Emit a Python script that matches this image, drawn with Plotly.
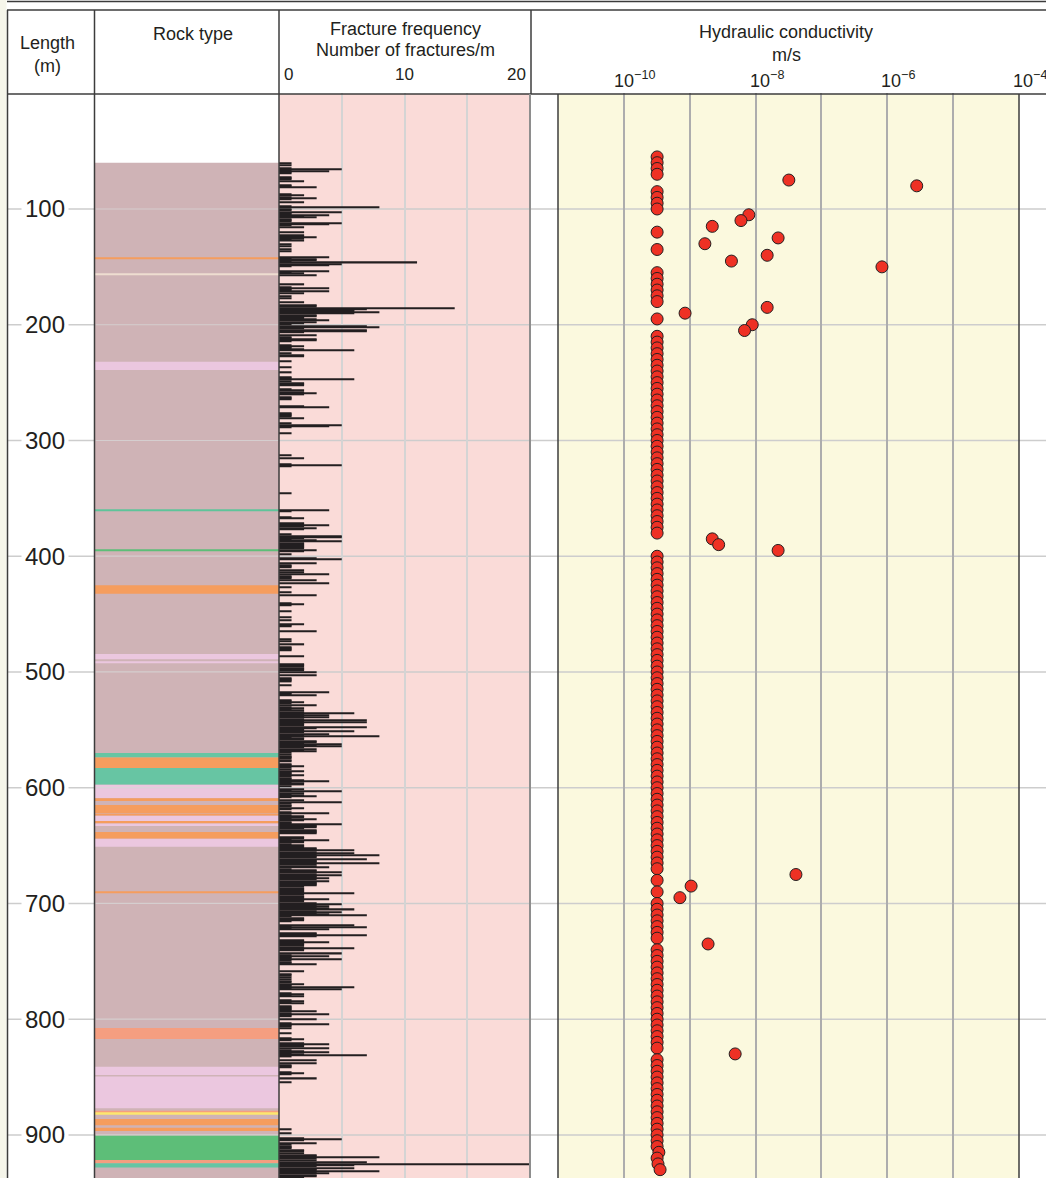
import plotly.graph_objects as go

# ---------------- DATA ----------------
depth_ticks = [100, 200, 300, 400, 500, 600, 700, 800, 900]

# Rock type intervals (top m, bottom m, colour)
rock_top = [60, 142.3, 156, 232, 359.5, 394, 425, 484.5, 491, 570, 574, 583, 597.5, 609, 615, 622.5, 624.3,
            628.7, 631, 638.2, 644.2, 690, 807.6, 841, 849.6, 879.2, 881.2, 886.2, 893.7, 900.5, 921.6, 924.4]
rock_bottom = [945, 143.3, 157, 239, 361, 395.5, 432.5, 489, 492.5, 574, 583, 597.5, 609, 611.5, 622, 624.3, 628.7,
               631, 633, 644.2, 651, 691, 817, 848.2, 877, 881.2, 882.6, 891.6, 896.6, 921.6, 924.4, 928.2]
rock_color = ['#CFB3B6', '#F59D5E', '#EEDDD0', '#EBC7DF', '#5EC49A', '#5DBE78', '#F59D5E', '#EBC7DF', '#EBC7DF',
              '#67C5A3', '#F59D5E', '#67C5A3', '#EBC7DF', '#F59D5E', '#F59D5E', '#F59D5E', '#EBC7DF',
              '#F59D5E', '#EBC7DF', '#F59D5E', '#EBC7DF', '#F59D5E', '#F59E80', '#EBC7DF', '#EBC7DF', '#F59E80',
              '#FDE66E', '#F59D5E', '#F59D5E', '#5DBE78', '#F59E80', '#67C5A3']

# Fracture frequency (depth m, fractures per m)
frac_060_199 = [(60,1),(62,1),(64,1),(65,5),(66,1),(67,4),(68,1),(69,1),(72,1),(73,1),(74,1),(76,2),(79,1),(80,1),
    (81,3),(87,1),(88,2),(89,1),(90,3),(91,1),(94,2),(97,1),(98,8),(100,1),(101,1),(102,5),(103,1),(104,1),(105,4),
    (106,2),(107,3),(108,1),(109,1),(110,1),(112,5),(113,4),(114,1),(115,2),(120,2),(122,2),(123,2),(124,3),(125,2),
    (126,1),(127,2),(130,1),(132,1),(134,1),(136,1),(141,4),(142,1),(143,3),(144,3),(145,1),(146,11),(147,5),(148,4),
    (149,1),(153,4),(154,1),(155,2),(157,3),(165,2),(167,1),(168,4),(169,1),(170,1),(171,4),(172,2),(175,1),(177,1),
    (180,2),(183,3),(184,3),(185,14),(186,7),(187,6),(188,6),(189,8),(190,6),(191,3),(192,3),(193,2),(194,2),(195,3),
    (196,4),(197,3),(198,2),(199,1)]
frac_200_399 = [(201,7),(202,8),(203,2),(204,7),(205,7),(206,2),(209,3),(210,1),(211,1),(212,3),(213,3),(214,1),
    (217,1),(218,2),(219,1),(220,1),(221,2),(222,6),(224,1),(226,2),(227,2),(231,1),(236,1),(241,1),(245,1),(246,1),
    (247,6),(248,1),(250,2),(251,2),(252,2),(255,1),(256,2),(258,2),(259,3),(260,2),(262,1),(263,1),(264,1),(270,2),
    (271,4),(276,1),(277,1),(278,1),(279,1),(280,2),(285,1),(286,5),(287,4),(288,1),(293,1),(312,1),(315,2),(320,1),
    (321,5),(322,1),(345,1),(360,4),(361,1),(366,1),(367,2),(371,2),(372,2),(373,4),(374,2),(375,3),(376,2),(381,1),
    (382,5),(383,5),(384,2),(385,1),(386,3),(387,5),(388,2),(389,2),(390,2),(391,2),(392,2),(393,2),(394,3),(395,2),
    (398,1)]
frac_400_599 = [(401,3),(402,5),(406,3),(407,1),(408,1),(409,1),(412,2),(413,2),(415,4),(417,1),(418,1),(419,1),
    (420,3),(423,4),(426,1),(431,1),(433,3),(440,1),(441,2),(442,1),(447,1),(452,1),(455,1),(458,2),(459,1),(460,1),
    (464,3),(471,1),(473,1),(476,2),(478,1),(479,1),(480,1),(481,1),(486,2),(493,2),(494,2),(495,2),(496,2),(497,2),
    (498,2),(500,3),(502,3),(505,1),(506,1),(507,1),(508,1),(511,1),(517,4),(518,1),(519,1),(520,3),(524,1),(525,1),
    (526,2),(527,1),(528,3),(530,1),(531,2),(532,1),(533,2),(534,2),(535,6),(536,2),(537,4),(538,2),(539,4),(540,2),
    (541,7),(542,2),(543,7),(544,2),(545,2),(546,2),(547,7),(548,3),(549,2),(550,2),(551,6),(552,2),(553,4),(554,2),
    (555,8),(556,1),(557,2),(558,2),(559,3),(560,3),(561,2),(562,5),(563,3),(564,5),(565,2),(566,3),(567,2),(568,3),
    (569,1),(571,1),(572,1),(573,1),(574,1),(576,1),(577,1),(579,1),(580,1),(581,2),(582,1),(584,1),(585,2),(586,1),
    (587,1),(588,1),(589,2),(590,1),(591,1),(592,1),(593,2),(594,4),(595,1),(596,2),(597,2),(598,1)]
frac_600_799 = [(601,2),(602,1),(603,5),(604,2),(605,1),(606,2),(607,3),(608,1),(610,2),(612,5),(613,1),(615,1),
    (616,1),(617,2),(618,1),(621,1),(622,4),(623,1),(624,2),(625,2),(626,1),(627,3),(628,2),(629,1),(630,1),(631,5),
    (632,3),(633,3),(634,3),(635,2),(636,3),(637,3),(638,3),(639,3),(642,2),(643,2),(644,1),(645,4),(646,2),(647,2),
    (648,1),(649,2),(650,2),(651,2),(652,3),(653,3),(654,6),(655,3),(656,6),(657,3),(658,8),(659,3),(660,3),(661,7),
    (662,3),(663,3),(664,3),(665,8),(666,3),(667,3),(668,4),(670,1),(671,3),(672,3),(673,5),(674,3),(675,5),(676,3),
    (677,3),(678,4),(679,3),(680,4),(681,3),(682,3),(683,3),(684,3),(685,2),(686,2),(687,2),(688,2),(689,2),(690,2),
    (691,6),(692,2),(693,2),(694,2),(695,2),(696,4),(697,2),(698,2),(699,3),(700,5),(701,3),(702,4),(703,3),(704,4),
    (705,6),(706,3),(707,5),(708,3),(709,4),(710,7),(711,1),(712,2),(713,2),(714,2),(715,1),(718,6),(719,1),(720,7),
    (721,1),(722,4),(725,3),(726,3),(727,7),(728,3),(731,2),(732,2),(733,4),(734,2),(735,2),(736,2),(737,2),(738,6),
    (739,2),(740,2),(743,5),(744,1),(745,4),(746,1),(747,1),(748,5),(749,1),(750,1),(751,1),(752,3),(758,2),(761,1),
    (762,1),(763,1),(765,1),(767,1),(768,1),(769,2),(770,1),(771,1),(772,6),(773,1),(774,5),(777,1),(778,2),(779,1),
    (780,2),(783,1),(784,2),(785,1),(786,2),(788,1),(789,1),(790,1),(791,1),(792,1),(793,3),(794,1),(795,4),(796,1),
    (797,1)]
frac_800_937 = [(800,3),(803,1),(804,4),(805,1),(806,1),(807,1),(812,1),(816,1),(817,2),(818,1),(820,2),(821,4),
    (822,2),(823,2),(825,4),(826,1),(827,2),(828,4),(829,1),(830,2),(831,7),(832,1),(835,3),(838,3),(839,1),(840,1),
    (841,1),(845,1),(846,2),(847,1),(851,3),(854,1),(895,1),(898,1),(902,2),(903,5),(904,2),(907,3),(908,1),(909,1),
    (910,1),(911,1),(913,2),(914,2),(915,2),(917,3),(918,3),(919,8),(920,3),(921,3),(923,7),(924,3),(925,20),(926,6),
    (927,3),(928,6),(929,3),(930,3),(931,8),(932,3),(933,4),(934,3),(935,3),(936,2)]

# Hydraulic conductivity (m/s): sections at detection limit
cond_low_depth = [55, 60, 65, 70, 85, 90, 95, 100, 120, 135, 155, 160, 165, 170, 175, 180, 195,
    210, 215, 220, 225, 230, 235, 240, 245, 250, 255, 260, 265, 270, 275, 280, 285, 290, 295, 300,
    305, 310, 315, 320, 325, 330, 335, 340, 345, 350, 355, 360, 365, 370, 375, 380,
    400, 405, 410, 415, 420, 425, 430, 435, 440, 445, 450, 455, 460, 465, 470, 475, 480, 485, 490, 495,
    500, 505, 510, 515, 520, 525, 530, 535, 540, 545, 550, 555, 560, 565, 570, 575, 580, 585, 590, 595,
    600, 605, 610, 615, 620, 625, 630, 635, 640, 645, 650, 655, 660, 665, 670, 680, 690,
    700, 705, 710, 715, 720, 725, 730, 740, 745, 750, 755, 760, 765, 770, 775, 780, 785, 790, 795,
    800, 805, 810, 815, 820, 825, 835, 840, 845, 850, 855, 860, 865, 870, 875, 880, 885, 890, 895,
    900, 905, 910, 920]
cond_low_value = 3.2e-10
# Measured sections above the limit
cond_depth = [75, 80, 105, 110, 115, 125, 130, 140, 145, 150, 185, 190, 200, 205, 385, 390, 395,
              675, 685, 695, 735, 830, 915, 925, 930]
cond_value = [3.2e-8, 2.8e-6, 7.9e-9, 6.0e-9, 2.2e-9, 2.2e-8, 1.7e-9, 1.5e-8, 4.3e-9, 8.3e-7, 1.5e-8, 8.5e-10,
              8.9e-9, 6.8e-9, 2.2e-9, 2.75e-9, 2.2e-8, 4.1e-8, 1.05e-9, 7.1e-10, 1.9e-9, 4.9e-9, 3.4e-10,
              3.3e-10, 3.55e-10]

frac_ticks = [0, 10, 20]
cond_tick_exp = [-10, -8, -6, -4]

# ---------------- LAYOUT HELPERS ----------------
W, H = 1046, 1178
TOP = 93.25          # pixel row of 0 m
DMAX = 937.2         # depth at bottom edge
INK = '#231F20'
FONT = 'Liberation Sans, Arial, sans-serif'


def px(x):
    return x / W


def py(y):
    return 1 - y / H


fig = go.Figure()

# rock column
fig.add_trace(go.Bar(
    x=[0.5] * len(rock_top), y=[b - t for t, b in zip(rock_top, rock_bottom)], base=rock_top,
    width=1, marker=dict(color=rock_color, line=dict(width=0)), xaxis='x', yaxis='y',
    hoverinfo='skip', showlegend=False))

# fracture frequency bars
frac_all = frac_060_199 + frac_200_399 + frac_400_599 + frac_600_799 + frac_800_937
fig.add_trace(go.Bar(
    y=[d + 0.5 for d, v in frac_all], x=[v for d, v in frac_all], orientation='h', width=1,
    marker=dict(color=INK, line=dict(width=0)), xaxis='x2', yaxis='y', showlegend=False))

# hydraulic conductivity points (sorted by depth so deeper circles overlap)
pts = [(d, cond_low_value) for d in cond_low_depth] + list(zip(cond_depth, cond_value))
pts.sort()
fig.add_trace(go.Scatter(
    x=[k for d, k in pts], y=[d for d, k in pts], mode='markers', xaxis='x3', yaxis='y',
    marker=dict(size=12, color='#EE3124', line=dict(color=INK, width=1)), showlegend=False))

shapes = []
# left strip (neighbouring panel tint)
shapes.append(dict(type='rect', xref='paper', yref='paper', x0=0, x1=px(6.5), y0=0, y1=1,
                   fillcolor='#F5F5EA', line=dict(width=0), layer='below'))
# panel backgrounds
shapes.append(dict(type='rect', xref='paper', yref='paper', x0=px(279), x1=px(530), y0=0, y1=py(94),
                   fillcolor='#FADBD8', line=dict(width=0), layer='below'))
shapes.append(dict(type='rect', xref='paper', yref='paper', x0=px(558), x1=px(1019), y0=0, y1=py(94),
                   fillcolor='#FBF9DE', line=dict(width=0), layer='below'))
# horizontal depth grid lines
for d in depth_ticks:
    shapes.append(dict(type='line', xref='paper', yref='y', x0=px(7), x1=1, y0=d, y1=d,
                       line=dict(color='#CDCDCD', width=1.5), layer='below'))
    shapes.append(dict(type='line', xref='paper', yref='y', x0=px(95.5), x1=px(278.5), y0=d, y1=d,
                       line=dict(color='rgba(215,215,215,0.75)', width=1.2), layer='above'))


def vline(x, y0, y1, color='#3C3C3C', w=1.5):
    shapes.append(dict(type='line', xref='paper', yref='paper', x0=px(x), x1=px(x), y0=py(y0), y1=py(y1),
                       line=dict(color=color, width=w), layer='above'))


def hline(y, x0, x1, color='#3C3C3C', w=1.5):
    shapes.append(dict(type='line', xref='paper', yref='paper', x0=px(x0), x1=px(x1), y0=py(y), y1=py(y),
                       line=dict(color=color, width=w), layer='above'))


hline(1.5, 7, W)
hline(10, 7, W)
hline(94, 7, W)
vline(7.5, 10, H)
vline(94.5, 10, H)
vline(279, 10, H)
vline(531, 10, 94)
vline(530, 94, H, color='#8E8E8E', w=2)
vline(558, 94, H)
vline(1019, 94, H)

ann = []


def text(x, y, s, size=18, **kw):
    d = dict(xref='paper', yref='paper', x=px(x), y=py(y), text=s, showarrow=False,
             font=dict(family=FONT, size=size, color=INK), xanchor='center', yanchor='middle')
    d.update(kw)
    ann.append(d)


text(47, 43, 'Length')
text(47, 66, '(m)')
text(193, 34, 'Rock type')
text(405, 29, 'Fracture frequency')
text(405, 50, 'Number of fractures/m')
text(786, 32, 'Hydraulic conductivity')
text(786, 55, 'm/s')

# fracture tick labels
for v, anchor, shift in zip(frac_ticks, ['left', 'center', 'right'], [3, 0, -2]):
    ann.append(dict(xref='x2', yref='paper', x=v, y=py(75), text=str(v), showarrow=False,
                    xanchor=anchor, yanchor='middle', xshift=shift,
                    font=dict(family=FONT, size=17, color=INK)))
# conductivity tick labels (log axis: x given as exponent)
for e in cond_tick_exp:
    ann.append(dict(xref='x3', yref='paper', x=e, y=py(79), text='10<sup>\u2212%d</sup>' % (-e),
                    showarrow=False, xanchor='center', yanchor='middle', xshift=11,
                    font=dict(family=FONT, size=18, color=INK)))
# depth tick labels
for d in depth_ticks:
    ann.append(dict(xref='paper', yref='y', x=px(45), y=d, text=str(d), showarrow=False,
                    xanchor='center', yanchor='middle', bgcolor='white', borderpad=3,
                    font=dict(family=FONT, size=24, color=INK)))

fig.update_layout(
    width=W, height=H, margin=dict(l=0, r=0, t=0, b=0), autosize=False,
    paper_bgcolor='white', plot_bgcolor='rgba(0,0,0,0)', showlegend=False, barmode='overlay',
    font=dict(family=FONT, color=INK),
    yaxis=dict(domain=[0, py(TOP)], range=[DMAX, 0], visible=False, anchor='x', fixedrange=True),
    xaxis=dict(domain=[px(94.5), px(279)], range=[0, 1], visible=False, anchor='y'),
    xaxis2=dict(domain=[px(279), px(530)], range=[0, 20], showgrid=True, gridcolor='#D4D4D4', gridwidth=1.5,
                tick0=0, dtick=5, showticklabels=False, ticks='', zeroline=False, showline=False, anchor='y'),
    xaxis3=dict(type='log', domain=[px(558), px(1019)], range=[-11, -4], dtick=1, showgrid=True,
                gridcolor='#ADADAD', gridwidth=1.5, showticklabels=False, ticks='', zeroline=False,
                showline=False, anchor='y'),
    shapes=shapes, annotations=ann,
)

fig.write_html('out.html', config={'displayModeBar': False},
               post_script="document.body.style.margin='0px';document.body.style.overflow='hidden';")
